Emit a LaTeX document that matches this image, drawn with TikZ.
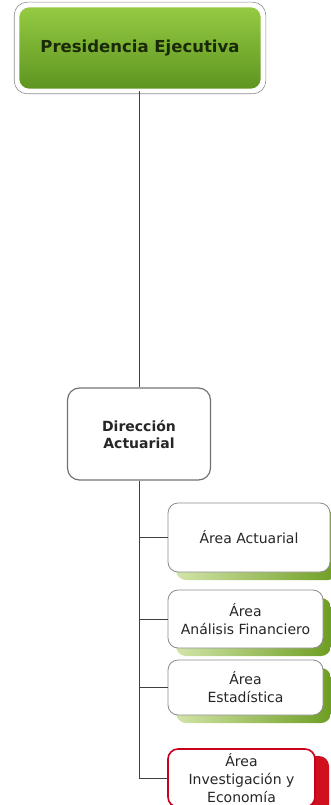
\documentclass[tikz,border=0pt]{standalone}
\usepackage{fontspec}
\setmainfont{DejaVu Sans}
\usetikzlibrary{shadows}
\definecolor{greenTop}{HTML}{96CB42}
\definecolor{greenBot}{HTML}{5C9420}
\definecolor{greenText}{HTML}{1A2A08}
\definecolor{shadeGreenL}{HTML}{D2E4A8}
\definecolor{shadeGreenR}{HTML}{6E9E22}
\definecolor{redEdge}{HTML}{C8001E}
\definecolor{redShade}{HTML}{D0101E}
\definecolor{lineGray}{HTML}{404040}
\begin{document}
\begin{tikzpicture}[x=1pt,y=-1pt,
  conn/.style={draw=lineGray, line width=0.9pt},
  topbox/.style={rounded corners=11pt, top color=greenTop, bottom color=greenBot,
    draw=white, line width=2.6pt, text=greenText,
    font=\fontsize{16.5}{19}\selectfont\bfseries, align=center},
  dirbox/.style={rounded corners=12pt, fill=white, draw=black!55, line width=1.2pt,
    font=\fontsize{14}{17}\selectfont\bfseries, text=black!85, align=center},
  areabox/.style={rounded corners=10pt, fill=white, draw=black!45, line width=0.8pt,
    font=\fontsize{14}{18}\selectfont, text=black!85, align=center, inner sep=1pt,
    general shadow={shadow xshift=8pt, shadow yshift=-8pt, rounded corners=10pt,
      left color=shadeGreenL, right color=shadeGreenR}},
  redbox/.style={rounded corners=10pt, fill=white, draw=redEdge, line width=1.6pt,
    font=\fontsize{14}{18}\selectfont, text=black!85, align=center, inner sep=1pt,
    general shadow={shadow xshift=14pt, shadow yshift=-7pt, rounded corners=10pt,
      fill=redShade}}
]
\useasboundingbox (0,0) rectangle (331,805);

% top of the chart
\node[topbox, minimum width=244pt, minimum height=84pt] (pe) at (140,48) {Presidencia Ejecutiva};
\draw[black!45, line width=0.6pt, rounded corners=13pt]
  ([shift={(-2.5,-2.5)}]pe.north west) rectangle ([shift={(2.5,2.5)}]pe.south east);

% direction level
\node[dirbox, minimum width=143pt, minimum height=92pt] (da) at (139,434) {Dirección\\Actuarial};

% areas
\node[areabox, minimum width=162pt, minimum height=69pt] (a1) at (249,537.5) {Área Actuarial};
\node[areabox, minimum width=155pt, minimum height=58pt] (a2) at (245.5,619) {Área\\Análisis Financiero};
\node[areabox, minimum width=155pt, minimum height=55pt] (a3) at (245.5,687.5) {Área\\Estadística};
\node[redbox, minimum width=147pt, minimum height=58pt] (a4) at (241.5,778) {Área\\Investigación y\\Economía};

% connectors
\draw[conn] (da.north) -- (da.north |- pe.south);
\coordinate (spineEnd) at (da.south |- a4.west);
\draw[conn] (da.south) -- (spineEnd) -- (a4.west);
\foreach \b in {a1,a2,a3}
  \draw[conn] (da.south |- \b.west) -- (\b.west);
\end{tikzpicture}
\end{document}
